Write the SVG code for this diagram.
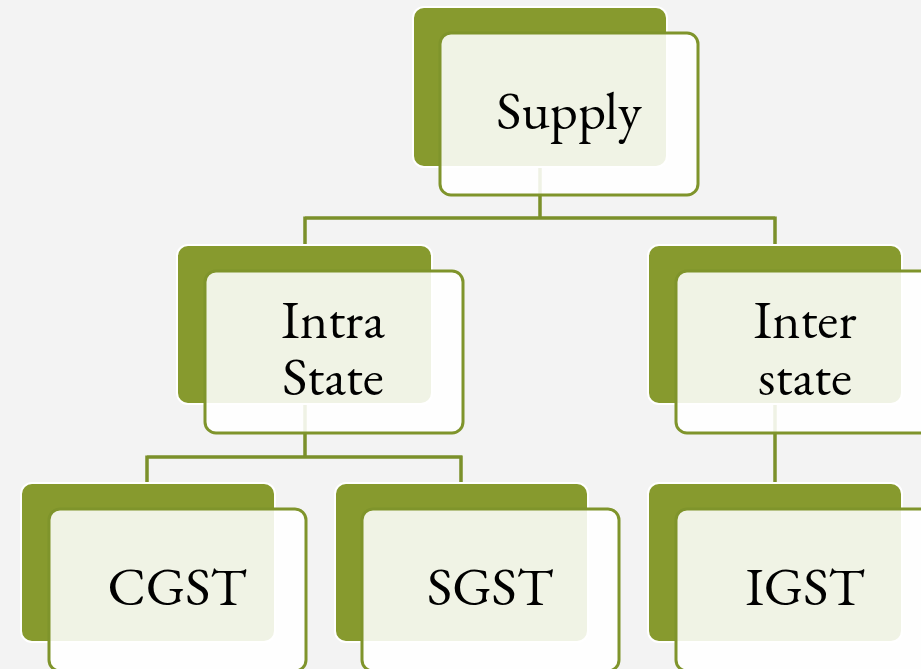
<svg xmlns="http://www.w3.org/2000/svg" width="921" height="669" viewBox="0 0 921 669">
  <defs>
    <style>
      .bg { fill: #f3f3f3; }
      .back { fill: #879a2e; stroke: #ffffff; stroke-width: 2; }
      .front { fill: #ffffff; fill-opacity: 0.88; stroke: #7f942b; stroke-width: 3; }
      .conn { fill: none; stroke: #7b902a; stroke-width: 3.5; }
      .lbl { font-family: "EB Garamond", Garamond, "Liberation Serif", "DejaVu Serif", serif; font-size: 54px; fill: #000000; text-anchor: middle; }
    </style>
  </defs>
  <rect class="bg" x="0" y="0" width="921" height="669"/>

  <g id="connectors">
    <path class="conn" d="M540,167 V218 M305,218 H775 M305,216.5 V246 M775,216.5 V246"/>
    <path class="conn" d="M305,404 V457 M147,457 H462 M147,455.5 V484 M461,455.5 V484"/>
    <path class="conn" d="M775,404 V484"/>
  </g>

  <g id="node-supply">
    <rect class="back" x="413" y="7" width="254" height="160" rx="11"/>
    <rect class="front" x="440" y="33" width="258" height="162" rx="11"/>
    <text class="lbl" x="569" y="129">Supply</text>
  </g>

  <g id="node-intra">
    <rect class="back" x="177" y="245" width="255" height="159" rx="11"/>
    <rect class="front" x="205" y="271" width="258" height="162" rx="11"/>
    <text class="lbl" x="333" y="338"><tspan x="333" y="338">Intra</tspan><tspan x="333" y="395">State</tspan></text>
  </g>

  <g id="node-inter">
    <rect class="back" x="648" y="245" width="254" height="159" rx="11"/>
    <rect class="front" x="676" y="271" width="258" height="162" rx="11"/>
    <text class="lbl" x="805" y="338"><tspan x="805" y="338">Inter</tspan><tspan x="805" y="395">state</tspan></text>
  </g>

  <g id="node-cgst">
    <rect class="back" x="21" y="483" width="254" height="159" rx="11"/>
    <rect class="front" x="49" y="509" width="257" height="162" rx="11"/>
    <text class="lbl" x="177" y="605">CGST</text>
  </g>

  <g id="node-sgst">
    <rect class="back" x="335" y="483" width="253" height="159" rx="11"/>
    <rect class="front" x="362" y="509" width="257" height="162" rx="11"/>
    <text class="lbl" x="490" y="605">SGST</text>
  </g>

  <g id="node-igst">
    <rect class="back" x="648" y="483" width="254" height="159" rx="11"/>
    <rect class="front" x="676" y="509" width="258" height="162" rx="11"/>
    <text class="lbl" x="805" y="605">IGST</text>
  </g>
</svg>
